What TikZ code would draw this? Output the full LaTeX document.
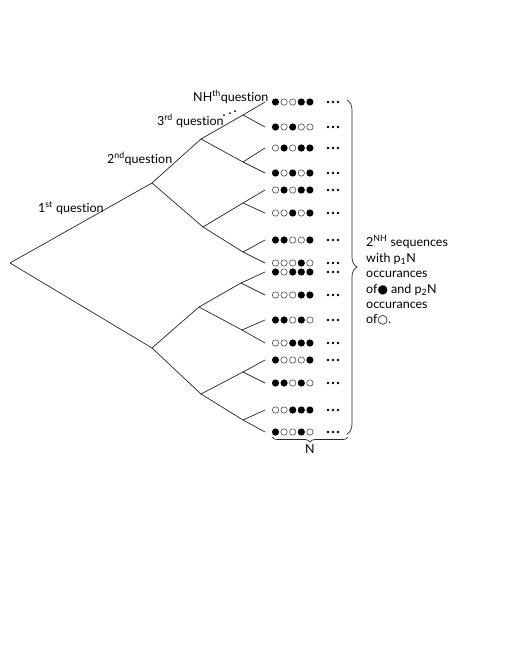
\documentclass[tikz,border=0pt]{standalone}
\usepackage{fontspec}
\setmainfont{Lato}[Ligatures={NoCommon}]
\newfontfamily\symfont{DejaVu Sans}
\usetikzlibrary{decorations.pathreplacing}
\tikzset{
  edge/.style={draw=black!85, line width=0.7pt},
  lbl/.style={anchor=base west, inner sep=0pt, font=\fontsize{12.5}{15}\selectfont},
  txt/.style={anchor=base west, inner sep=0pt, font=\fontsize{12.5}{15}\selectfont},
  full/.style={fill=black},
  hollow/.style={draw=black!75, line width=0.55pt, fill=white},
  bracestyle/.style={draw=black!85, line width=0.7pt, decorate}
}
\begin{document}
\begin{tikzpicture}[x=1pt,y=-1pt]
\useasboundingbox (0,0) rectangle (518,670);
% tree points
\coordinate (r) at (10,263);
\coordinate (a1) at (152,183);
\coordinate (a2) at (152,348);
\coordinate (b1) at (201,139);
\coordinate (b2) at (203,227);
\coordinate (b3) at (199,307);
\coordinate (b4) at (201,394);
\coordinate (c1) at (243,115);
\coordinate (c2) at (243,162);
\coordinate (c3) at (243,203);
\coordinate (c4) at (243,252);
\coordinate (c5) at (241,283);
\coordinate (c6) at (242,330);
\coordinate (c7) at (243,372);
\coordinate (c8) at (243,420);
\foreach \y [count=\i] in {102,127,148,173,190,213,240,263,272,295,320,343,360,383,410,432}
  \coordinate (l\i) at (265,\y);
\foreach \p/\c in {r/a1,r/a2,a1/b1,a1/b2,a2/b3,a2/b4,
  b1/c1,b1/c2,b2/c3,b2/c4,b3/c5,b3/c6,b4/c7,b4/c8,
  c1/l1,c1/l2,c2/l3,c2/l4,c3/l5,c3/l6,c4/l7,c4/l8,
  c5/l9,c5/l10,c6/l11,c6/l12,c7/l13,c7/l14,c8/l15,c8/l16}
  \draw[edge] (\p) -- (\c);
% sequences
\foreach \y/\s in {102/{1,0,0,1,1},127/{1,0,1,0,0},148/{0,1,0,1,1},173/{1,0,1,0,1},
  190/{0,1,0,1,1},213/{0,0,1,0,1},240/{1,1,0,0,1},263/{0,0,0,1,0},
  272/{1,0,1,1,1},295/{0,0,0,1,1},320/{1,1,0,1,0},343/{0,0,1,1,1},
  360/{1,0,0,0,1},383/{1,1,0,1,0},410/{0,0,1,1,1},432/{1,0,0,1,0}}{
  \foreach \b [count=\k from 0] in \s {
    \ifnum\b=1
      \fill[full] (275.5+8.6*\k,\y) circle (3.6pt);
    \else
      \draw[hollow] (275.5+8.6*\k,\y) circle (3.2pt);
    \fi
  }
  \foreach \d in {0,1,2} \fill (328+5*\d,\y) circle (1.3pt);
}
% question labels
\node[lbl] (q4) at (193,101) {NH\textsuperscript{th}question};
\node[lbl] (q3) at (157,125) {3\textsuperscript{rd} question};
\fill (224,115) circle (1pt) (230,113) circle (1pt) (235,111) circle (1pt);
\node[lbl] (q2) at (107,163) {2\textsuperscript{nd}question};
\node[lbl] (q1) at (38,212) {1\textsuperscript{st} question};
% braces
\coordinate (bt) at (347,100);
\coordinate (bb) at (347,434);
\draw[bracestyle, decoration={brace, amplitude=10pt}] (bt) -- (bb);
\coordinate (nl) at (272,437);
\coordinate (nr) at (348,437);
\draw[bracestyle, decoration={brace, amplitude=5pt}] (nr) -- (nl);
\node[anchor=north, inner sep=0pt, font=\fontsize{12.5}{15}\selectfont] (N) at (310,444) {N};
% description
\node[txt] (t1) at (366,246) {2\textsuperscript{NH} sequences};
\node[txt] (t2) at (366,262) {with p\textsubscript{1}N};
\node[txt] (t3) at (366,277) {occurances};
\node[txt] (t4) at (366,293) {of{\symfont\fontsize{12}{14}\selectfont●} and p\textsubscript{2}N};
\node[txt] (t5) at (366,308) {occurances};
\node[txt] (t6) at (366,323) {of{\symfont\fontsize{12}{14}\selectfont○}.};
\end{tikzpicture}
\end{document}
